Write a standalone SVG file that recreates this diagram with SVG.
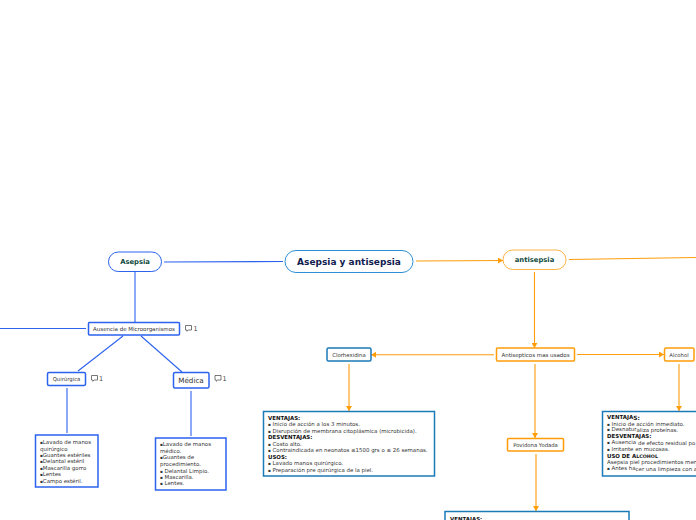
<svg xmlns="http://www.w3.org/2000/svg" width="696" height="520" viewBox="0 0 696 520">
<defs>
<marker id="ah" markerUnits="userSpaceOnUse" markerWidth="6" markerHeight="6" refX="5" refY="3" orient="auto"><path d="M0 0L5 3L0 6Z" fill="#ff9d0a"/></marker>
<symbol id="cm" viewBox="0 0 7 7" overflow="visible"><path d="M0.5 .5H6.500V5H3.200L1.800 6.300V5H0.500Z" fill="#fff" stroke="#555" stroke-width=".8"/></symbol>
</defs>
<style>
text{font-family:"DejaVu Sans",Verdana,sans-serif;fill:#333}
.b{fill:#fff;stroke:#2b62ee;stroke-width:1.5}
.o{fill:#fff;stroke:#ff9d0a;stroke-width:1.5}
.t{fill:#fff;stroke:#1b7ab8;stroke-width:1.5}
.lb{stroke:#2b62ee;stroke-width:1.100;fill:none}
.lo{stroke:#ff9d0a;stroke-width:1.100;fill:none}
.c{text-anchor:middle}
.d{font-size:5.450px;fill:#333}
.h{font-weight:bold;fill:#111}
.n{font-size:5.450px}
.m{font-size:4.200px}
.cn{font-size:6.500px;fill:#444}
</style>
<g id="connectors">
<path class="lb" d="M283 261.500L164 262"/>
<path class="lb" d="M135 272V322"/>
<path class="lb" d="M0 328.500H86"/>
<path class="lb" d="M123 336L78 371"/>
<path class="lb" d="M141 336L182 372"/>
<path class="lb" d="M67 388V433"/>
<path class="lb" d="M191 391V436"/>
<path class="lo" d="M416 261L503 260.500" marker-end="url(#ah)"/>
<path class="lo" d="M569 259.500L696 257.500"/>
<path class="lo" d="M534.500 272V348" marker-end="url(#ah)"/>
<path class="lo" d="M494 354.800H371" marker-end="url(#ah)"/>
<path class="lo" d="M577 354.500H664" marker-end="url(#ah)"/>
<path class="lo" d="M535 364V438" marker-end="url(#ah)"/>
<path class="lo" d="M349 364V411" marker-end="url(#ah)"/>
<path class="lo" d="M679 364V411" marker-end="url(#ah)"/>
<path class="lo" d="M536 454V511" marker-end="url(#ah)"/>
</g>
<g id="root"><rect x="285" y="250.500" width="128" height="22" rx="11" fill="#fff" stroke="#2d8fd5" stroke-width="1"/><text x="349" y="265" class="c" font-size="9" font-weight="bold" style="fill:#10204f">Asepsia y antisepsia</text></g>
<g id="asepsia"><rect x="108.500" y="252" width="53" height="19.500" rx="9.700" fill="#fff" stroke="#2b62ee" stroke-width="1"/><text x="135" y="264" class="c" font-size="6.800" font-weight="bold" style="fill:#0f4a3c">Asepsia</text></g>
<g id="antisepsia"><rect x="503" y="250" width="63" height="19.500" rx="9.700" fill="#fff" stroke="#ffb347" stroke-width="1"/><text x="534.500" y="261.500" class="c" font-size="6.800" font-weight="bold" style="fill:#0f4a3c">antisepsia</text></g>
<g id="ausencia"><rect class="b" x="88.500" y="322.500" width="91" height="12.500" rx="1"/><text x="134" y="331" class="c" font-size="5.500">Ausencia de Microorganismos</text><use href="#cm" x="185" y="325" width="7" height="7"/><text x="193.500" y="331" class="cn">1</text></g>
<g id="quirurgica"><rect class="b" x="47.500" y="372.500" width="38" height="13" rx="1.500"/><text x="66.500" y="381" class="c" font-size="5.300">Quirúrgica</text><use href="#cm" x="91" y="375" width="7" height="7"/><text x="99" y="381" class="cn">1</text></g>
<g id="medica"><rect class="b" x="173.500" y="372.500" width="35.500" height="15.500" rx="1.500"/><text x="191" y="383" class="c" font-size="7.200">Médica</text><use href="#cm" x="214.500" y="375" width="7" height="7"/><text x="222.500" y="381" class="cn">1</text></g>
<g id="lista-quirurgica"><rect class="b" x="35.500" y="435" width="62.500" height="52"/>
<text class="n" x="40" y="444"><tspan class="m">▪</tspan>Lavado de manos</text><text class="n" x="40" y="450.500">quirúrgico</text><text class="n" x="40" y="457"><tspan class="m">▪</tspan>Guantes estériles</text><text class="n" x="40" y="463"><tspan class="m">▪</tspan>Delantal estéril</text><text class="n" x="40" y="470"><tspan class="m">▪</tspan>Mascarilla gorro</text><text class="n" x="40" y="476"><tspan class="m">▪</tspan>Lentes</text><text class="n" x="40" y="483"><tspan class="m">▪</tspan>Campo estéril.</text></g>
<g id="lista-medica"><rect class="b" x="155.500" y="438" width="70.500" height="52"/>
<text class="n" x="160" y="446"><tspan class="m">▪</tspan>Lavado de manos</text><text class="n" x="160" y="453">médico.</text><text class="n" x="160" y="459"><tspan class="m">▪</tspan>Guantes de</text><text class="n" x="160" y="466">procedimiento.</text><text class="n" x="160" y="472.500"><tspan class="m">▪</tspan> Delantal Limpio.</text><text class="n" x="160" y="479"><tspan class="m">▪</tspan> Mascarilla.</text><text class="n" x="160" y="485"><tspan class="m">▪</tspan> Lentes.</text></g>
<g id="antisepticos"><rect class="o" x="496.500" y="348" width="78" height="13" rx="1"/><text x="535.500" y="357" class="c" font-size="5.500">Antisepticos mas usados</text></g>
<g id="clorhexidina"><rect class="t" x="327" y="348" width="44" height="13" rx="1.500"/><text x="349" y="357" class="c" font-size="5.400">Clorhexidina</text></g>
<g id="alcohol"><rect class="o" x="664.500" y="348" width="29.500" height="13" rx="1.500"/><text x="679" y="357" class="c" font-size="5.300">Alcohol</text></g>
<g id="povidona"><rect class="o" x="507.500" y="438.500" width="56" height="12.500" rx="1"/><text x="535.500" y="447" class="c" font-size="5.300">Povidona Yodada</text></g>
<g id="info-clorhexidina"><rect class="t" x="263.500" y="411.500" width="171" height="64.500"/>
<text class="d h" x="268" y="420">VENTAJAS:</text><text class="d" x="268" y="426"><tspan class="m">▪</tspan> Inicio de acción a los 3 minutos.</text><text class="d" x="268" y="432.500"><tspan class="m">▪</tspan> Disrupción de membrana citoplásmica (microbicida).</text><text class="d h" x="268" y="439">DESVENTAJAS:</text><text class="d" x="268" y="445.500"><tspan class="m">▪</tspan> Costo alto.</text><text class="d" x="268" y="452"><tspan class="m">▪</tspan> Contraindicada en neonatos ≤1500 grs o ≤ 26 semanas.</text><text class="d h" x="268" y="458.500">USOS:</text><text class="d" x="268" y="465"><tspan class="m">▪</tspan> Lavado manos quirúrgico.</text><text class="d" x="268" y="471.500"><tspan class="m">▪</tspan> Preparación pre quirúrgica de la piel.</text></g>
<g id="info-alcohol"><rect class="t" x="602.500" y="411.500" width="110" height="64.500"/>
<text class="d h" x="607" y="419">VENTAJA<tspan font-size="5.900" dy=".5">S:</tspan></text><text class="d" x="607" y="425.500"><tspan class="m">▪</tspan> Inicio de acción inmediato.</text><text class="d" x="607" y="431"><tspan class="m">▪</tspan> Desnatur<tspan dy="1">aliza proteínas.</tspan></text><text class="d h" x="607" y="438">DESVENTAJAS:</text><text class="d" x="607" y="444"><tspan class="m">▪</tspan> Ausencia <tspan dy="1">de efecto residual po</tspan></text><text class="d" x="607" y="451"><tspan class="m">▪</tspan> Irritante en mucosas.</text><text class="d h" x="607" y="457.500">USO DE A<tspan font-size="4.800">LCOHOL</tspan></text><text class="d" x="607" y="464">Asepsia piel procedimientos men</text><text class="d" x="607" y="470"><tspan class="m">▪</tspan> Antes ha<tspan dy="1">cer una limpieza con a</tspan></text></g>
<g id="info-povidona"><rect class="t" x="445" y="511.500" width="184" height="20"/><text class="d h" x="450" y="520.500">VENTAJAS:</text></g>
</svg>
